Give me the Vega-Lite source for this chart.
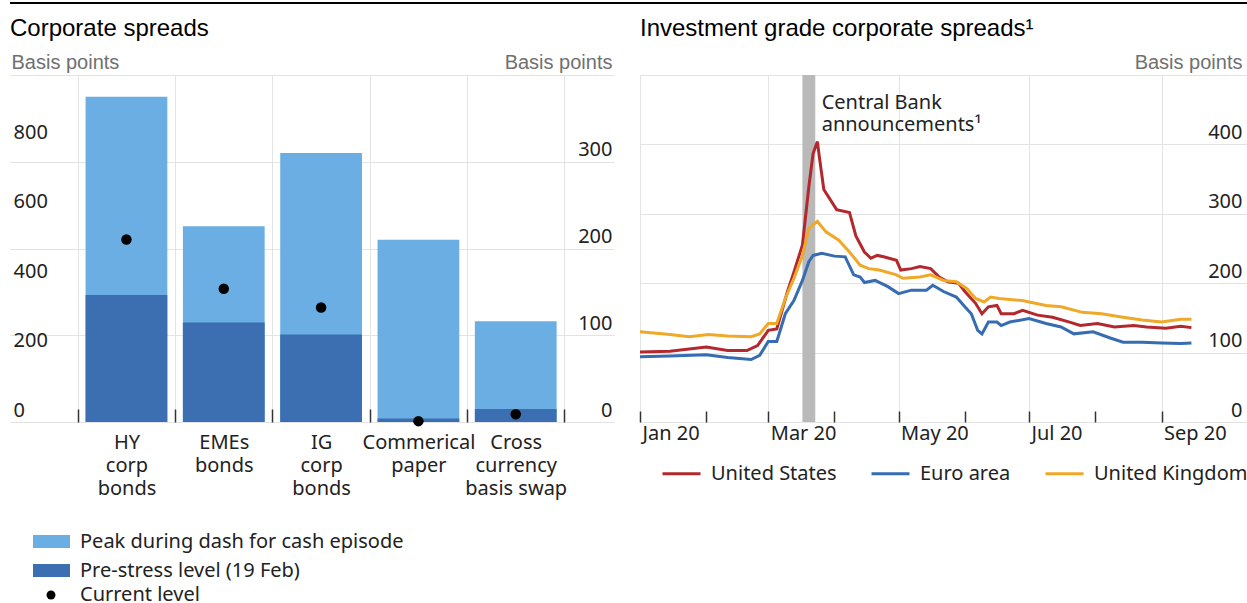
{
  "$schema": "https://vega.github.io/schema/vega-lite/v6.json",
  "padding": 0,
  "config": {"view": {"stroke": null}, "font": "Noto Sans"},
  "spacing": 11,
  "vconcat": [
    {
      "width": 1247,
      "height": 2,
      "view": {"fill": "black", "stroke": null},
      "data": {"values": [{}]},
      "mark": {"type": "point", "opacity": 0},
      "encoding": {}
    },
    {
      "resolve": {"scale": {"color": "independent", "shape": "independent"}, "legend": {"color": "independent", "shape": "independent"}},
      "hconcat": [
        {
          "width": 604,
          "height": 347,
          "title": {"text": "Corporate spreads", "anchor": "start", "frame": "group", "font": "Liberation Sans", "fontSize": 24, "fontWeight": "normal", "color": "#000000", "baseline": "alphabetic", "offset": -8},
          "data": {"values": [
            {"category": "HY corp bonds", "axis": "left", "peak": 937, "pre": 366, "current": 526},
            {"category": "EMEs bonds", "axis": "left", "peak": 564, "pre": 287, "current": 384},
            {"category": "IG corp bonds", "axis": "right", "peak": 310, "pre": 101, "current": 132},
            {"category": "Commerical paper", "axis": "right", "peak": 210, "pre": 4, "current": 1},
            {"category": "Cross currency basis swap", "axis": "right", "peak": 116, "pre": 15, "current": 9}
          ]},
          "encoding": {
            "x": {
              "field": "category", "type": "nominal", "sort": null,
              "scale": {"domain": ["HY corp bonds", "EMEs bonds", "IG corp bonds", "Commerical paper", "Cross currency basis swap"], "paddingInner": 0, "paddingOuter": 0.603, "align": 0.5775},
              "axis": {
                "orient": "bottom", "title": null, "tickBand": "extent", "grid": true, "gridColor": "#e3e3e3", "gridWidth": 1,
                "domain": false, "ticks": true, "tickSize": -13, "tickColor": "#333333", "tickWidth": 1.5,
                "labelPadding": 23, "labelBaseline": "top", "labelLineHeight": 23.3, "labelFontSize": 20, "labelFont": "Noto Sans", "labelColor": "#222222", "labelAngle": 0, "labelOverlap": false, "labelLimit": 300,
                "labelExpr": "datum.label == 'Cross currency basis swap' ? ['Cross', 'currency', 'basis swap'] : split(datum.label, ' ')"
              }
            }
          },
          "layer": [
            {
              "transform": [{"filter": "datum.axis === 'left'"}],
              "layer": [
                {
                  "mark": {"type": "bar", "width": {"band": 0.84}, "opacity": 1},
                  "encoding": {
                    "y": {"field": "peak", "type": "quantitative", "scale": {"domain": [0, 1000]},
                      "axis": {"orient": "left", "offset": 10, "values": [0, 200, 400, 600, 800], "grid": false, "domain": true, "domainOpacity": 0, "ticks": false, "tickSize": 0,
                        "labelAlign": "left", "labelPadding": -13, "labelBaseline": "alphabetic", "labelOffset": -6, "labelFontSize": 20, "labelFont": "Noto Sans", "labelColor": "#222222",
                        "title": "Basis points", "titleAngle": 0, "titleAlign": "left", "titleBaseline": "alphabetic", "titleX": 11, "titleY": -7, "titleFont": "Liberation Sans", "titleFontSize": 20, "titleFontWeight": "normal", "titleColor": "#707070"}},
                    "color": {"datum": "Peak during dash for cash episode", "type": "nominal",
                      "scale": {"domain": ["Peak during dash for cash episode", "Pre-stress level (19 Feb)"], "range": ["#6aaee4", "#3c6eb2"]},
                      "legend": {"orient": "none", "legendX": 23, "legendY": 448, "direction": "vertical", "title": null, "padding": 0,
                        "symbolType": "M-1,-0.35H1V0.35H-1Z", "symbolSize": 1369, "symbolStrokeWidth": 0, "symbolOpacity": 1,
                        "labelFontSize": 20, "labelFont": "Noto Sans", "labelColor": "#222222", "labelOffset": 10, "rowPadding": -1.3, "labelLimit": 500}}
                  }
                },
                {
                  "mark": {"type": "bar", "width": {"band": 0.84}, "opacity": 1},
                  "encoding": {
                    "y": {"field": "pre", "type": "quantitative"},
                    "color": {"datum": "Pre-stress level (19 Feb)", "type": "nominal"}
                  }
                },
                {
                  "mark": {"type": "point", "filled": true, "size": 110, "color": "#000000", "opacity": 1},
                  "encoding": {
                    "y": {"field": "current", "type": "quantitative"},
                    "shape": {"datum": "Current level", "type": "nominal", "scale": {"range": ["circle"]},
                      "legend": {"orient": "none", "legendX": 31, "legendY": 510, "title": null, "padding": 0, "symbolSize": 80, "symbolFillColor": "#000000", "symbolStrokeWidth": 0, "symbolOpacity": 1,
                        "labelFontSize": 20, "labelFont": "Noto Sans", "labelColor": "#222222", "labelOffset": 19}}
                  }
                }
              ]
            },
            {
              "transform": [{"filter": "datum.axis === 'right'"}],
              "layer": [
                {
                  "mark": {"type": "bar", "width": {"band": 0.84}, "opacity": 1},
                  "encoding": {
                    "y": {"field": "peak", "type": "quantitative", "scale": {"domain": [0, 400]},
                      "axis": {"orient": "right", "values": [0, 100, 200, 300, 400], "grid": true, "gridColor": "#e3e3e3", "domain": false, "ticks": false, "tickSize": 0,
                        "labelExpr": "datum.value == 400 ? '' : datum.label",
                        "labelAlign": "right", "labelPadding": -2, "labelBaseline": "alphabetic", "labelOffset": -6, "labelFontSize": 20, "labelFont": "Noto Sans", "labelColor": "#222222",
                        "title": "Basis points", "titleAngle": 0, "titleAlign": "right", "titleBaseline": "alphabetic", "titleX": -2, "titleY": -7, "titleFont": "Liberation Sans", "titleFontSize": 20, "titleFontWeight": "normal", "titleColor": "#707070"}},
                    "color": {"datum": "Peak during dash for cash episode", "type": "nominal"}
                  }
                },
                {
                  "mark": {"type": "bar", "width": {"band": 0.84}, "opacity": 1},
                  "encoding": {
                    "y": {"field": "pre", "type": "quantitative"},
                    "color": {"datum": "Pre-stress level (19 Feb)", "type": "nominal"}
                  }
                },
                {
                  "mark": {"type": "point", "filled": true, "size": 110, "color": "#000000", "opacity": 1},
                  "encoding": {
                    "y": {"field": "current", "type": "quantitative"},
                    "shape": {"datum": "Current level", "type": "nominal"}
                  }
                }
              ]
            }
          ],
          "resolve": {"scale": {"y": "independent"}}
        },
        {
          "width": 607,
          "height": 347,
          "title": {"text": "Investment grade corporate spreads¹", "anchor": "start", "frame": "group", "font": "Liberation Sans", "fontSize": 24, "fontWeight": "normal", "color": "#000000", "baseline": "alphabetic", "offset": -8},
          "layer": [
            {
              "data": {"values": [{"start": "2020-03-17", "end": "2020-03-23"}]},
              "mark": {"type": "rect", "color": "#b9b9b9", "opacity": 1},
              "encoding": {
                "x": {"field": "start", "type": "temporal",
                  "scale": {"type": "utc", "domain": [{"year": 2020, "month": 1, "date": 1, "utc": true}, {"year": 2020, "month": 10, "date": 11, "utc": true}]},
                  "axis": {
                    "values": [
                      {"year": 2020, "month": 1, "date": 1, "utc": true},
                      {"year": 2020, "month": 2, "date": 1, "utc": true},
                      {"year": 2020, "month": 3, "date": 1, "utc": true},
                      {"year": 2020, "month": 4, "date": 1, "utc": true},
                      {"year": 2020, "month": 5, "date": 1, "utc": true},
                      {"year": 2020, "month": 6, "date": 1, "utc": true},
                      {"year": 2020, "month": 7, "date": 1, "utc": true},
                      {"year": 2020, "month": 8, "date": 1, "utc": true},
                      {"year": 2020, "month": 9, "date": 1, "utc": true}
                    ],
                    "title": null, "domain": false, "grid": true, "gridColor": "#e3e3e3",
                    "gridOpacity": {"condition": {"test": "utcmonth(datum.value) % 2 == 0", "value": 1}, "value": 0},
                    "ticks": true, "tickSize": -11, "tickColor": "#333333", "tickWidth": 1.5,
                    "labelExpr": "utcmonth(datum.value) % 2 == 0 ? utcFormat(datum.value, '%b %y') : ''",
                    "labelAlign": "left", "labelOffset": 2, "labelBaseline": "top", "labelPadding": 12.5, "labelFlush": false, "labelOverlap": false, "labelBound": false,
                    "labelFontSize": 20, "labelFont": "Noto Sans", "labelColor": "#222222", "labelAngle": 0
                  }
                },
                "x2": {"field": "end"},
                "y": {"datum": 0, "type": "quantitative"},
                "y2": {"datum": 500}
              }
            },
            {
              "data": {"values": [
                {"date": "2020-01-01", "series": "United States", "value": 101},
                {"date": "2020-01-15", "series": "United States", "value": 102},
                {"date": "2020-02-01", "series": "United States", "value": 108},
                {"date": "2020-02-11", "series": "United States", "value": 103},
                {"date": "2020-02-20", "series": "United States", "value": 103},
                {"date": "2020-02-25", "series": "United States", "value": 110},
                {"date": "2020-03-01", "series": "United States", "value": 132},
                {"date": "2020-03-05", "series": "United States", "value": 134},
                {"date": "2020-03-10", "series": "United States", "value": 188},
                {"date": "2020-03-13", "series": "United States", "value": 216},
                {"date": "2020-03-17", "series": "United States", "value": 255},
                {"date": "2020-03-20", "series": "United States", "value": 339},
                {"date": "2020-03-22", "series": "United States", "value": 387},
                {"date": "2020-03-24", "series": "United States", "value": 404},
                {"date": "2020-03-25", "series": "United States", "value": 380},
                {"date": "2020-03-27", "series": "United States", "value": 335},
                {"date": "2020-04-02", "series": "United States", "value": 306},
                {"date": "2020-04-08", "series": "United States", "value": 302},
                {"date": "2020-04-11", "series": "United States", "value": 268},
                {"date": "2020-04-15", "series": "United States", "value": 245},
                {"date": "2020-04-18", "series": "United States", "value": 236},
                {"date": "2020-04-21", "series": "United States", "value": 240},
                {"date": "2020-04-24", "series": "United States", "value": 238},
                {"date": "2020-04-30", "series": "United States", "value": 233},
                {"date": "2020-05-02", "series": "United States", "value": 219},
                {"date": "2020-05-07", "series": "United States", "value": 221},
                {"date": "2020-05-11", "series": "United States", "value": 224},
                {"date": "2020-05-16", "series": "United States", "value": 221},
                {"date": "2020-05-20", "series": "United States", "value": 209},
                {"date": "2020-05-24", "series": "United States", "value": 202},
                {"date": "2020-05-29", "series": "United States", "value": 200},
                {"date": "2020-06-01", "series": "United States", "value": 188},
                {"date": "2020-06-06", "series": "United States", "value": 171},
                {"date": "2020-06-09", "series": "United States", "value": 156},
                {"date": "2020-06-12", "series": "United States", "value": 166},
                {"date": "2020-06-16", "series": "United States", "value": 168},
                {"date": "2020-06-18", "series": "United States", "value": 156},
                {"date": "2020-06-24", "series": "United States", "value": 156},
                {"date": "2020-06-28", "series": "United States", "value": 161},
                {"date": "2020-07-05", "series": "United States", "value": 154},
                {"date": "2020-07-12", "series": "United States", "value": 151},
                {"date": "2020-07-20", "series": "United States", "value": 144},
                {"date": "2020-07-25", "series": "United States", "value": 139},
                {"date": "2020-08-02", "series": "United States", "value": 142},
                {"date": "2020-08-10", "series": "United States", "value": 137},
                {"date": "2020-08-19", "series": "United States", "value": 139},
                {"date": "2020-08-25", "series": "United States", "value": 137},
                {"date": "2020-09-03", "series": "United States", "value": 135},
                {"date": "2020-09-10", "series": "United States", "value": 138},
                {"date": "2020-09-15", "series": "United States", "value": 136},
                {"date": "2020-01-01", "series": "Euro area", "value": 94},
                {"date": "2020-01-15", "series": "Euro area", "value": 95},
                {"date": "2020-02-01", "series": "Euro area", "value": 97},
                {"date": "2020-02-11", "series": "Euro area", "value": 93},
                {"date": "2020-02-22", "series": "Euro area", "value": 90},
                {"date": "2020-02-26", "series": "Euro area", "value": 96},
                {"date": "2020-03-01", "series": "Euro area", "value": 116},
                {"date": "2020-03-05", "series": "Euro area", "value": 116},
                {"date": "2020-03-09", "series": "Euro area", "value": 156},
                {"date": "2020-03-13", "series": "Euro area", "value": 175},
                {"date": "2020-03-17", "series": "Euro area", "value": 204},
                {"date": "2020-03-20", "series": "Euro area", "value": 231},
                {"date": "2020-03-22", "series": "Euro area", "value": 240},
                {"date": "2020-03-26", "series": "Euro area", "value": 243},
                {"date": "2020-04-01", "series": "Euro area", "value": 239},
                {"date": "2020-04-06", "series": "Euro area", "value": 238},
                {"date": "2020-04-10", "series": "Euro area", "value": 212},
                {"date": "2020-04-13", "series": "Euro area", "value": 209},
                {"date": "2020-04-15", "series": "Euro area", "value": 201},
                {"date": "2020-04-20", "series": "Euro area", "value": 204},
                {"date": "2020-04-26", "series": "Euro area", "value": 195},
                {"date": "2020-05-01", "series": "Euro area", "value": 185},
                {"date": "2020-05-07", "series": "Euro area", "value": 190},
                {"date": "2020-05-14", "series": "Euro area", "value": 190},
                {"date": "2020-05-17", "series": "Euro area", "value": 197},
                {"date": "2020-05-22", "series": "Euro area", "value": 188},
                {"date": "2020-05-28", "series": "Euro area", "value": 180},
                {"date": "2020-06-01", "series": "Euro area", "value": 166},
                {"date": "2020-06-04", "series": "Euro area", "value": 156},
                {"date": "2020-06-07", "series": "Euro area", "value": 132},
                {"date": "2020-06-09", "series": "Euro area", "value": 127},
                {"date": "2020-06-12", "series": "Euro area", "value": 144},
                {"date": "2020-06-16", "series": "Euro area", "value": 144},
                {"date": "2020-06-18", "series": "Euro area", "value": 139},
                {"date": "2020-06-22", "series": "Euro area", "value": 144},
                {"date": "2020-07-01", "series": "Euro area", "value": 149},
                {"date": "2020-07-09", "series": "Euro area", "value": 142},
                {"date": "2020-07-16", "series": "Euro area", "value": 137},
                {"date": "2020-07-22", "series": "Euro area", "value": 127},
                {"date": "2020-07-31", "series": "Euro area", "value": 130},
                {"date": "2020-08-08", "series": "Euro area", "value": 121},
                {"date": "2020-08-14", "series": "Euro area", "value": 115},
                {"date": "2020-08-23", "series": "Euro area", "value": 115},
                {"date": "2020-09-01", "series": "Euro area", "value": 114},
                {"date": "2020-09-10", "series": "Euro area", "value": 113},
                {"date": "2020-09-15", "series": "Euro area", "value": 114},
                {"date": "2020-01-01", "series": "United Kingdom", "value": 130},
                {"date": "2020-01-15", "series": "United Kingdom", "value": 126},
                {"date": "2020-01-24", "series": "United Kingdom", "value": 123},
                {"date": "2020-02-02", "series": "United Kingdom", "value": 126},
                {"date": "2020-02-11", "series": "United Kingdom", "value": 124},
                {"date": "2020-02-22", "series": "United Kingdom", "value": 123},
                {"date": "2020-02-26", "series": "United Kingdom", "value": 127},
                {"date": "2020-03-01", "series": "United Kingdom", "value": 142},
                {"date": "2020-03-05", "series": "United Kingdom", "value": 142},
                {"date": "2020-03-09", "series": "United Kingdom", "value": 178},
                {"date": "2020-03-13", "series": "United Kingdom", "value": 207},
                {"date": "2020-03-17", "series": "United Kingdom", "value": 240},
                {"date": "2020-03-20", "series": "United Kingdom", "value": 279},
                {"date": "2020-03-24", "series": "United Kingdom", "value": 289},
                {"date": "2020-03-28", "series": "United Kingdom", "value": 274},
                {"date": "2020-04-03", "series": "United Kingdom", "value": 262},
                {"date": "2020-04-08", "series": "United Kingdom", "value": 245},
                {"date": "2020-04-13", "series": "United Kingdom", "value": 226},
                {"date": "2020-04-17", "series": "United Kingdom", "value": 221},
                {"date": "2020-04-22", "series": "United Kingdom", "value": 219},
                {"date": "2020-04-30", "series": "United Kingdom", "value": 212},
                {"date": "2020-05-03", "series": "United Kingdom", "value": 207},
                {"date": "2020-05-11", "series": "United Kingdom", "value": 209},
                {"date": "2020-05-16", "series": "United Kingdom", "value": 212},
                {"date": "2020-05-22", "series": "United Kingdom", "value": 204},
                {"date": "2020-05-28", "series": "United Kingdom", "value": 202},
                {"date": "2020-06-02", "series": "United Kingdom", "value": 192},
                {"date": "2020-06-06", "series": "United Kingdom", "value": 178},
                {"date": "2020-06-10", "series": "United Kingdom", "value": 173},
                {"date": "2020-06-13", "series": "United Kingdom", "value": 180},
                {"date": "2020-06-17", "series": "United Kingdom", "value": 178},
                {"date": "2020-06-28", "series": "United Kingdom", "value": 175},
                {"date": "2020-07-01", "series": "United Kingdom", "value": 173},
                {"date": "2020-07-09", "series": "United Kingdom", "value": 168},
                {"date": "2020-07-16", "series": "United Kingdom", "value": 166},
                {"date": "2020-07-26", "series": "United Kingdom", "value": 158},
                {"date": "2020-08-04", "series": "United Kingdom", "value": 156},
                {"date": "2020-08-14", "series": "United Kingdom", "value": 151},
                {"date": "2020-08-23", "series": "United Kingdom", "value": 147},
                {"date": "2020-09-01", "series": "United Kingdom", "value": 144},
                {"date": "2020-09-10", "series": "United Kingdom", "value": 148},
                {"date": "2020-09-15", "series": "United Kingdom", "value": 148}
              ]},
              "mark": {"type": "line", "strokeWidth": 3, "opacity": 1},
              "encoding": {
                "x": {"field": "date", "type": "temporal"},
                "y": {"field": "value", "type": "quantitative", "scale": {"domain": [0, 500]},
                  "axis": {"orient": "right", "values": [0, 100, 200, 300, 400, 500], "grid": true, "gridColor": "#e3e3e3", "domain": false, "ticks": false, "tickSize": 0,
                    "labelExpr": "datum.value == 500 ? '' : datum.label",
                    "labelAlign": "right", "labelPadding": -5, "labelBaseline": "alphabetic", "labelOffset": -6, "labelFontSize": 20, "labelFont": "Noto Sans", "labelColor": "#222222",
                    "title": "Basis points", "titleAngle": 0, "titleAlign": "right", "titleBaseline": "alphabetic", "titleX": -5, "titleY": -7, "titleFont": "Liberation Sans", "titleFontSize": 20, "titleFontWeight": "normal", "titleColor": "#707070"}},
                "color": {"field": "series", "type": "nominal", "sort": null,
                  "scale": {"domain": ["United States", "Euro area", "United Kingdom"], "range": ["#b2282d", "#356cb2", "#f0a828"]},
                  "legend": {"orient": "none", "legendX": 21, "legendY": 378, "direction": "horizontal", "title": null, "padding": 0,
                    "symbolType": "stroke", "symbolSize": 1444, "symbolStrokeWidth": 3, "symbolOpacity": 1,
                    "labelFontSize": 20, "labelFont": "Noto Sans", "labelColor": "#222222", "labelOffset": 9, "columnPadding": 28, "labelLimit": 500}}
              }
            },
            {
              "data": {"values": [{"date": "2020-03-26", "value": 451, "note": "Central Bank\nannouncements¹"}]},
              "mark": {"type": "text", "align": "left", "baseline": "alphabetic", "lineBreak": "\n", "lineHeight": 22.4, "fontSize": 20, "font": "Noto Sans", "color": "#222222"},
              "encoding": {
                "x": {"field": "date", "type": "temporal"},
                "y": {"field": "value", "type": "quantitative"},
                "text": {"field": "note"}
              }
            }
          ]
        }
      ],
      "spacing": 26,
      "bounds": "flush"
    }
  ]
}
